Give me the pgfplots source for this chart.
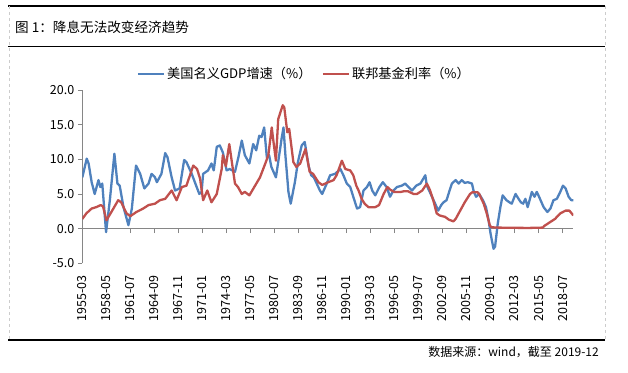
\documentclass[border=0pt]{standalone}
\usepackage{pgfplots}
\pgfplotsset{compat=1.18}
\usepackage{fontspec}
\setmainfont{Noto Sans CJK SC}
\definecolor{gdpblue}{HTML}{4F81BD}
\definecolor{ffred}{HTML}{C0504D}
\definecolor{axisgray}{HTML}{868686}
\begin{document}
\begin{tikzpicture}[x=1pt,y=1pt]
\path (0,0) rectangle (628,372);
\draw[black, line width=1.1pt] (8,366) -- (605,366);
\draw[black, line width=1pt] (8,325) -- (605,325);
\draw[black, line width=1.1pt] (8,32) -- (605,32);
\draw[gray!40, dashed, line width=0.6pt] (9,366) -- (9,32);
\draw[gray!40, dashed, line width=0.6pt] (605,366) -- (605,32);
\node[anchor=west, font=\fontsize{13.6}{15}\selectfont, inner sep=0pt] at (15,345) {图 1：降息无法改变经济趋势};
\node[anchor=east, font=\fontsize{12}{14}\selectfont, inner sep=0pt] at (599,20) {数据来源：wind，截至 2019-12};
\begin{axis}[
  at={(82.3pt,108.7pt)}, anchor=south west,
  scale only axis, width=491pt, height=173.3pt,
  xmin=1955.1667, xmax=2019.9167, ymin=-5, ymax=20,
  axis x line=middle, axis y line=left,
  x axis line style={-, draw=axisgray, line width=0.8pt},
  y axis line style={-, draw=axisgray, line width=0.8pt},
  hide obscured x ticks=false, hide obscured y ticks=false,
  tick align=outside, major tick length=4.5pt,
  tick style={axisgray, line width=0.8pt},
  xtick={1955.1667,1958.3333,1961.5,1964.6667,1967.8333,1971.0,1974.1667,1977.3333,1980.5,1983.6667,1986.8333,1990.0,1993.1667,1996.3333,1999.5,2002.6667,2005.8333,2009.0,2012.1667,2015.3333,2018.5},
  xticklabels={1955-03,1958-05,1961-07,1964-09,1967-11,1971-01,1974-03,1977-05,1980-07,1983-09,1986-11,1990-01,1993-03,1996-05,1999-07,2002-09,2005-11,2009-01,2012-03,2015-05,2018-07},
  ytick={-5,0,5,10,15,20},
  yticklabel style={/pgf/number format/.cd, fixed, fixed zerofill, precision=1},
  /pgf/number format/assume math mode=true,
  tick label style={font=\fontsize{12.5}{14}\selectfont, black},
  xticklabel style={yshift=-39pt, rotate=90, anchor=east},
  legend columns=2,
  legend style={draw=none, fill=none, at={(0.452,1.092)}, anchor=center,
    font=\fontsize{13.2}{15}\selectfont,
    /tikz/every even column/.append style={column sep=8pt}},
  legend image code/.code={\draw[#1,line width=2.6pt] (0pt,0pt) -- (26pt,0pt);},
]
\addplot[gdpblue, line width=2.3pt, line join=round, no marks] coordinates {
(1955.17,7.4) (1955.75,10.1) (1956.0,9.4) (1956.4,6.7) (1956.8,5.0) (1957.3,7.0) (1957.55,6.0) (1957.8,6.5)
(1958.3,-0.5) (1958.8,4.1) (1959.4,10.8) (1959.8,6.5) (1960.1,6.2) (1960.6,3.1) (1961.25,0.5) (1961.7,2.9)
(1962.25,9.1) (1962.8,7.9) (1963.35,5.8) (1963.9,6.5) (1964.3,7.9) (1964.75,7.4) (1965.0,6.7) (1965.6,7.9)
(1966.1,10.9) (1966.4,10.3) (1966.95,7.4) (1967.4,5.5) (1968.0,5.8) (1968.6,9.9) (1968.9,9.6) (1969.6,7.9)
(1970.25,6.0) (1970.6,5.0) (1970.9,5.3) (1971.1,7.9) (1971.75,8.4) (1972.2,9.4) (1972.5,8.4) (1972.9,11.8)
(1973.3,12.0) (1973.7,11.0) (1974.2,8.4) (1974.6,8.6) (1975.3,8.2) (1975.75,10.3) (1976.2,12.7) (1976.6,10.6)
(1977.2,9.4) (1977.7,12.2) (1978.1,11.3) (1978.5,13.4) (1978.8,13.2) (1979.15,14.6) (1979.5,10.3) (1979.8,10.6)
(1980.1,8.9) (1980.7,7.4) (1981.0,9.6) (1981.45,13.0) (1981.7,14.6) (1981.95,10.6) (1982.35,5.3) (1982.65,3.6)
(1983.2,6.7) (1983.6,9.6) (1984.1,12.0) (1984.5,12.5) (1985.0,9.1) (1985.35,7.7) (1985.7,7.4) (1986.5,5.5)
(1986.8,5.0) (1987.4,6.5) (1987.85,7.7) (1988.5,7.9) (1989.2,8.6) (1989.6,7.7) (1990.05,6.5) (1990.5,6.0)
(1990.9,4.6) (1991.4,2.9) (1991.8,3.1) (1992.25,5.5) (1992.7,6.0) (1993.05,6.7) (1993.4,5.5) (1993.8,4.8)
(1994.35,6.0) (1994.8,6.7) (1995.3,6.0) (1995.75,4.6) (1996.2,5.5) (1996.65,6.0) (1997.3,6.2) (1997.75,6.5)
(1998.2,6.0) (1998.65,5.5) (1999.2,6.2) (1999.75,6.5) (2000.4,7.7) (2000.6,6.2) (2000.9,5.5) (2001.7,3.6)
(2002.1,2.6) (2002.5,3.4) (2002.8,3.8) (2003.2,4.1) (2003.6,5.5) (2003.9,6.5) (2004.4,7.0) (2004.8,6.5)
(2005.2,7.0) (2005.6,6.6) (2006.0,6.7) (2006.55,6.5) (2006.8,5.3) (2007.1,4.6) (2007.5,5.0) (2008.0,4.1)
(2008.4,3.1) (2008.75,1.2) (2009.0,-0.7) (2009.4,-2.9) (2009.6,-2.6) (2009.95,0.7) (2010.3,3.1) (2010.6,4.8)
(2011.1,4.1) (2011.5,3.8) (2011.8,3.6) (2012.3,5.0) (2012.7,4.3) (2013.0,3.8) (2013.3,3.6) (2013.6,4.3)
(2013.9,3.1) (2014.45,5.3) (2014.8,4.6) (2015.1,5.3) (2015.4,4.6) (2016.0,3.1) (2016.5,2.4) (2016.9,2.9)
(2017.3,4.1) (2017.75,4.3) (2018.2,5.3) (2018.55,6.2) (2018.9,5.8) (2019.3,4.6) (2019.65,4.1) (2019.92,4.1)
};
\addlegendentry{美国名义GDP增速（\%）}
\addplot[ffred, line width=2.3pt, line join=round, no marks] coordinates {
(1955.17,1.4) (1955.7,2.2) (1956.4,2.9) (1957.0,3.1) (1957.6,3.4) (1957.9,3.2) (1958.35,1.2) (1959.0,2.4)
(1959.9,4.1) (1960.3,3.8) (1961.0,2.2) (1961.5,1.8) (1962.3,2.4) (1963.2,2.9) (1963.9,3.4) (1964.75,3.6)
(1965.4,4.1) (1966.1,4.3) (1966.95,5.5) (1967.6,4.1) (1968.3,6.0) (1968.9,6.2) (1969.8,9.1) (1970.3,8.6)
(1970.7,7.2) (1971.1,4.1) (1971.65,5.5) (1972.2,3.8) (1972.9,5.0) (1973.55,8.6) (1973.7,10.6) (1974.1,9.0)
(1974.55,12.2) (1975.3,6.5) (1975.7,6.0) (1976.2,5.0) (1976.6,5.3) (1977.2,4.8) (1977.95,6.2) (1978.6,7.4)
(1979.3,9.4) (1979.7,10.6) (1980.15,14.6) (1980.3,13.2) (1980.7,9.8) (1981.0,15.8) (1981.6,17.8) (1981.8,17.5)
(1982.2,13.9) (1982.45,14.4) (1983.0,9.6) (1983.4,8.9) (1983.9,9.4) (1984.6,11.5) (1985.15,8.2) (1985.6,7.9)
(1986.3,6.7) (1986.8,6.3) (1987.4,6.6) (1987.6,6.7) (1988.3,7.0) (1988.7,7.7) (1989.4,9.8) (1989.85,8.6)
(1990.5,8.4) (1990.9,7.7) (1991.3,6.2) (1991.6,5.5) (1992.0,4.3) (1992.4,3.6) (1992.9,3.1) (1993.8,3.1)
(1994.3,3.4) (1994.9,5.0) (1995.4,6.0) (1995.8,5.6) (1996.3,5.3) (1997.2,5.3) (1997.6,5.4) (1998.1,5.4)
(1998.85,5.0) (1999.3,5.0) (2000.0,5.5) (2000.6,6.5) (2001.0,5.6) (2001.45,4.1) (2001.9,2.2) (2002.3,1.9)
(2003.0,1.7) (2003.5,1.3) (2004.1,1.05) (2004.4,1.4) (2005.0,2.6) (2005.6,3.8) (2006.3,5.0) (2006.6,5.25)
(2007.3,5.25) (2007.5,5.0) (2008.1,3.6) (2008.5,2.2) (2008.9,0.5) (2009.1,0.2) (2010.0,0.15) (2012.0,0.12)
(2014.0,0.1) (2015.9,0.15) (2016.1,0.4) (2016.8,0.9) (2017.5,1.4) (2018.2,2.2) (2018.9,2.6) (2019.4,2.6)
(2019.92,1.9)
};
\addlegendentry{联邦基金利率（\%）}
\end{axis}
\end{tikzpicture}
\end{document}
